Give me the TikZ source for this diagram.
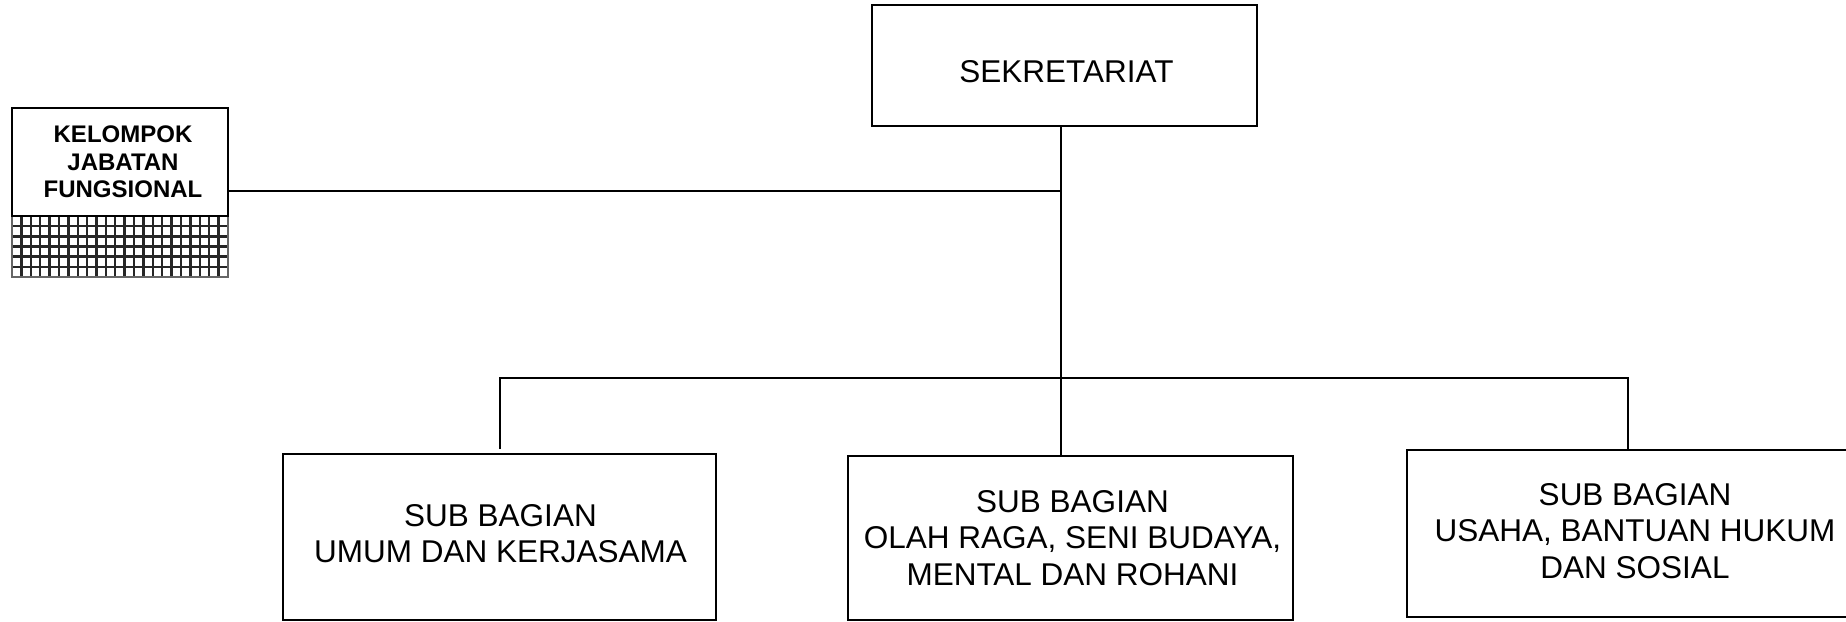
\documentclass[tikz,border=0pt]{standalone}
\usepackage{fontspec}
\setmainfont{Liberation Sans}
\begin{document}
\begin{tikzpicture}[x=1pt,y=-1pt,
  box/.style={draw=black,line width=2pt,fill=white,inner sep=0pt},
  label text/.style={inner sep=0pt,align=center,font=\fontsize{31.5}{36.3}\selectfont},
  small text/.style={inner sep=0pt,align=center,font=\bfseries\fontsize{24}{27.6}\selectfont},
  conn/.style={draw=black,line width=1.8pt},
  hatch/.style={draw=black!85,line width=2.4pt}]
\useasboundingbox (0,0) rectangle (1846,621);
\clip (0,0) rectangle (1846,621);
\fill[white] (0,0) rectangle (1846,621);

% junction coordinates
\coordinate (j1) at (1061,191);
\coordinate (j2) at (1061,378);
\coordinate (b1) at (500,378);
\coordinate (b3) at (1628,378);

% hatched block under KJF
\begin{scope}
\clip (12,216) rectangle (228,277);
\foreach \i in {0,...,23} { \draw[hatch] ({12+9.39*\i},214) -- ({12+9.39*\i},279); }
\foreach \j in {0,...,6} { \draw[hatch] (10,{216+10.17*\j}) -- (230,{216+10.17*\j}); }
\end{scope}
\draw[line width=1.2pt,black!60] (12,216) rectangle (228,277);

% boxes
\node[box,minimum width=385pt,minimum height=121pt] (sek) at (1064.5,65.5) {};
\node[box,minimum width=216pt,minimum height=108pt] (kjf) at (120,162) {};
\node[box,minimum width=433pt,minimum height=166pt] (sb1) at (499.5,537) {};
\node[box,minimum width=445pt,minimum height=164pt] (sb2) at (1070.5,538) {};
\node[box,minimum width=456pt,minimum height=167pt] (sb3) at (1635,533.5) {};

% texts
\node[label text] (sekt) at ([yshift=-6pt,xshift=2pt]sek.center) {SEKRETARIAT};
\node[small text] (kjft) at ([xshift=3pt]kjf.center) {KELOMPOK\\JABATAN\\FUNGSIONAL};
\node[label text] (sb1t) at ([yshift=3.5pt,xshift=1pt]sb1.center) {SUB BAGIAN\\UMUM DAN KERJASAMA};
\node[label text] (sb2t) at ([xshift=2pt]sb2.center) {SUB BAGIAN\\OLAH RAGA, SENI BUDAYA,\\MENTAL DAN ROHANI};
\node[label text] (sb3t) at ([yshift=2.5pt]sb3.center) {SUB BAGIAN\\USAHA, BANTUAN HUKUM\\DAN SOSIAL};

% connectors
\draw[conn] (sek.south -| j1) -- (sb2.north -| j1);
\draw[conn] (kjf.east |- j1) -- (j1);
\draw[conn] ([yshift=4pt]b1 |- sb1.north) -- (b1) -- (b3) -- (b3 |- sb3.north);
\end{tikzpicture}
\end{document}
